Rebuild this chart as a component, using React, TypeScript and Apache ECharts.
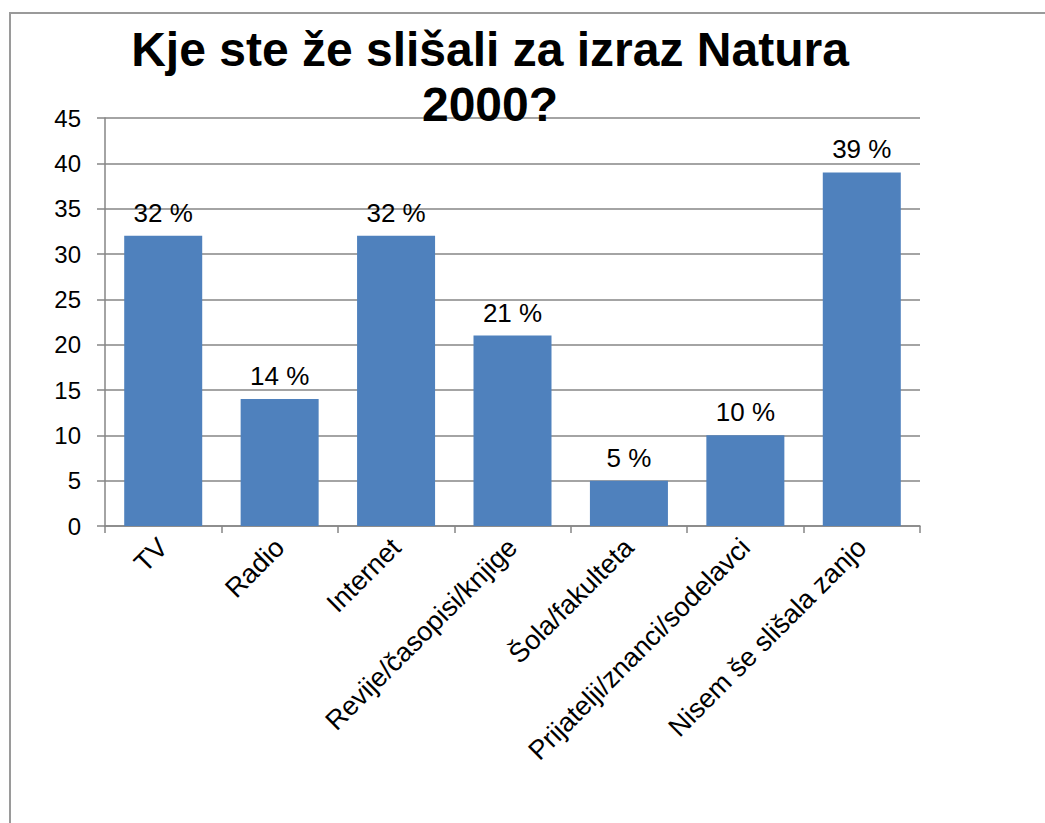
import React, { useEffect, useRef } from "react";
import * as echarts from "echarts";

const categories = [
  "TV",
  "Radio",
  "Internet",
  "Revije/časopisi/knjige",
  "Šola/fakulteta",
  "Prijatelji/znanci/sodelavci",
  "Nisem še slišala zanjo",
];
const values = [32, 14, 32, 21, 5, 10, 39];
const titleText = "Kje ste že slišali za izraz Natura\n2000?";

export default function App() {
  const ref = useRef<HTMLDivElement>(null);
  useEffect(() => {
    document.body.style.margin = "0";
    const chart = echarts.init(ref.current!, null, { renderer: "svg" });
    const font = "Liberation Sans, Arial, sans-serif";
    chart.setOption({
      animation: false,
      backgroundColor: "#fff",
      textStyle: { fontFamily: font },
      title: {
        text: titleText,
        left: 490,
        textAlign: "center",
        top: 22,
        padding: 0,
        textStyle: {
          fontFamily: font,
          fontSize: 48,
          fontWeight: "bold",
          color: "#000",
          lineHeight: 55,
        },
      },
      graphic: [
        {
          type: "rect",
          shape: { x: 10, y: 13, width: 1200, height: 1000 },
          style: { fill: "none", stroke: "#9a9a9a", lineWidth: 2 },
          z: -10,
        },
      ],
      grid: { left: 105, right: 125, top: 118, bottom: 297, containLabel: false },
      xAxis: {
        type: "category",
        data: categories,
        axisLine: { lineStyle: { color: "#868686", width: 1.5 } },
        axisTick: { show: true, length: 7, alignWithLabel: false, lineStyle: { color: "#868686", width: 1.5 } },
        axisLabel: {
          rotate: 45,
          interval: 0,
          fontSize: 27,
          color: "#000",
          fontFamily: font,
          margin: 17,
        },
      },
      yAxis: {
        type: "value",
        min: 0,
        max: 45,
        interval: 5,
        axisLine: { show: true, lineStyle: { color: "#868686", width: 1.5 } },
        axisTick: { show: true, length: 8, lineStyle: { color: "#868686", width: 1.5 } },
        splitLine: { show: true, lineStyle: { color: "#868686", width: 1.5 } },
        axisLabel: { fontSize: 24, color: "#000", fontFamily: font, margin: 24 },
      },
      series: [
        {
          type: "bar",
          data: values,
          barCategoryGap: "33%",
          itemStyle: { color: "#4F81BD" },
          label: {
            show: true,
            position: "top",
            formatter: "{c} %",
            fontSize: 26,
            color: "#000",
            fontFamily: font,
            distance: 10,
          },
        },
      ],
    });
    return () => chart.dispose();
  }, []);
  return <div ref={ref} style={{ position: "absolute", left: 0, top: 0, width: 1045, height: 823 }} />;
}
